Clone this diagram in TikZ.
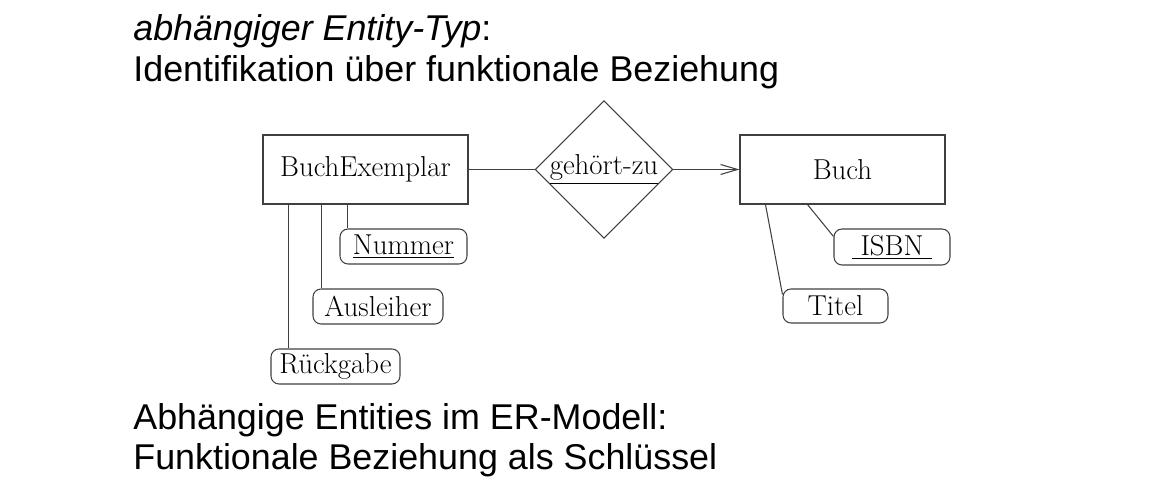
\documentclass[tikz,border=0pt]{standalone}
\usepackage{fontspec}
\usepackage{tikz}
\usetikzlibrary{shapes.geometric, arrows.meta}
\newfontfamily\headfont{Liberation Sans}
\newcommand{\diagfont}{\fontsize{16.4}{19}\selectfont}

\begin{document}
\begin{tikzpicture}[
    entity/.style={draw=black!75, line width=0.6pt, minimum width=4.1cm, minimum height=1.38cm, inner sep=0pt, font=\diagfont},
    relship/.style={draw=black!75, line width=0.6pt, diamond, minimum width=2.72cm, minimum height=2.74cm, inner sep=0pt, font=\diagfont},
    attrib/.style={draw=black!75, line width=0.6pt, rounded corners=0.16cm, minimum height=0.7cm, inner sep=0pt, font=\diagfont},
    heading/.style={anchor=base west, inner sep=0pt, font=\headfont\fontsize{20.4}{23.4}\selectfont},
    conn/.style={black!75, line width=0.6pt}
]
    \useasboundingbox (0,0) rectangle (23.28,9.74);
    % Headings
    \node[heading] (title) at (2.66,8.92) {\textit{abhängiger Entity-Typ}:};
    \node[heading] (subtitle) at ([yshift=-0.82cm]title.base west) {Identifikation über funktionale Beziehung};
    \node[heading] (note) at (2.66,1.14) {Abhängige Entities im ER-Modell:};
    \node[heading] (subnote) at ([yshift=-0.8cm]note.base west) {Funktionale Beziehung als Schlüssel};
    % Entities and relationship
    \node[entity] (bex) at (7.31,6.35) {BuchExemplar};
    \node[relship] (rel) at (12.08,6.35) {\underline{gehört-zu}};
    \node[entity] (buch) at (16.85,6.35) {Buch};
    \draw[conn] (bex.east) -- (rel.west);
    \draw[conn, -{Straight Barb[length=3.4mm, width=2mm]}] (rel.east) -- (buch.west);
    % Attributes of BuchExemplar
    \node[attrib, minimum width=2.54cm] (nummer) at (8.07,4.81) {\underline{Nummer}};
    \node[attrib, minimum width=2.6cm] (ausl) at (7.56,3.61) {Ausleiher};
    \node[attrib, minimum width=2.58cm] (rueck) at (6.71,2.41) {Rückgabe};
    \coordinate (n1) at ([xshift=0.16cm]nummer.north west);
    \coordinate (a1) at ([xshift=0.18cm]ausl.north west);
    \coordinate (r1) at ([xshift=0.36cm]rueck.north west);
    \draw[conn] (n1) -- (n1 |- bex.south);
    \draw[conn] (a1) -- (a1 |- bex.south);
    \draw[conn] (r1) -- (r1 |- bex.south);
    % Attributes of Buch
    \node[attrib, minimum width=2.32cm, minimum height=0.72cm] (isbn) at (17.84,4.80) {\underline{\ ISBN\ }};
    \node[attrib, minimum width=2.1cm, minimum height=0.68cm] (titel) at (16.71,3.62) {Titel};
    \draw[conn] ([xshift=1.36cm]buch.south west) -- ([yshift=-0.16cm]isbn.north west);
    \draw[conn] ([xshift=0.52cm]buch.south west) -- ([yshift=-0.12cm]titel.north west);
\end{tikzpicture}
\end{document}
